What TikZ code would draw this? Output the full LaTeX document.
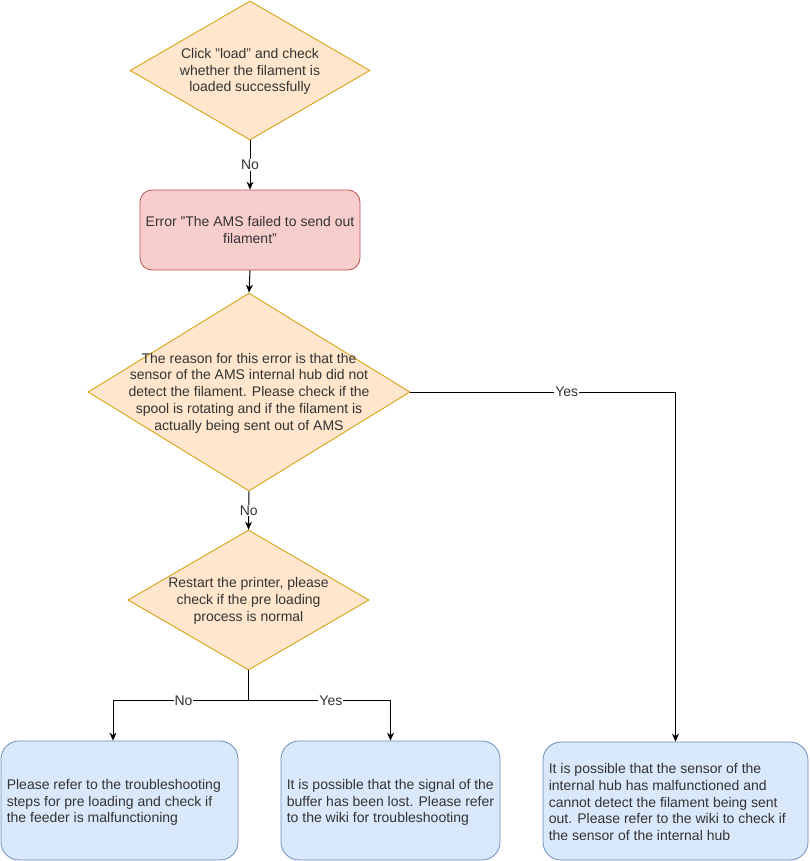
\documentclass[tikz,border=0pt]{standalone}
\usepackage{fontspec}
\setmainfont{Liberation Sans}
\usetikzlibrary{shapes.geometric,arrows.meta,calc}
\definecolor{decfill}{HTML}{FFE6CC}
\definecolor{decdraw}{HTML}{D79B00}
\definecolor{errfill}{HTML}{F8CECC}
\definecolor{errdraw}{HTML}{B85450}
\definecolor{endfill}{HTML}{DAE8FC}
\definecolor{enddraw}{HTML}{6C8EBF}
\definecolor{txt}{HTML}{333333}
\tikzset{
  decision/.style={diamond,draw=decdraw,fill=decfill,line width=0.8pt,inner sep=0pt,aspect=1},
  dectext/.style={text=txt,align=center,inner sep=0pt,font=\fontsize{14}{16.8}\selectfont},
  errbox/.style={draw=errdraw,fill=errfill,line width=0.8pt,rounded corners=12pt,text=txt,align=center,font=\fontsize{14}{16.8}\selectfont},
  endbox/.style={draw=enddraw,fill=endfill,line width=0.8pt,rounded corners=18pt,inner sep=0pt},
  endtext/.style={text=txt,align=left,inner sep=0pt,anchor=west,font=\fontsize{14}{16.8}\selectfont},
  conn/.style={draw=black,line width=1pt,-{Stealth[length=8pt,width=7pt]}},
  lbl/.style={fill=white,inner sep=1pt,text=txt,font=\fontsize{14}{16}\selectfont}
}
\begin{document}
\begin{tikzpicture}[x=1pt,y=-1pt]
\useasboundingbox (0,0) rectangle (809,861);
% decisions
\node[decision,minimum width=240pt,minimum height=139pt] (d1) at (250,70.5) {};
\node[dectext] (t1) at ($(d1.center)+(0,1)$) {Click "load" and check\\whether the filament is\\loaded successfully};
\node[errbox,minimum width=220pt,minimum height=80pt] (e1) at (250,230) {Error "The AMS failed to send out\\filament"};
\node[decision,minimum width=322pt,minimum height=198pt] (d2) at (249,392) {};
\node[dectext] (t2) at ($(d2.center)+(0,1)$) {The reason for this error is that the\\sensor of the AMS internal hub did not\\detect the filament. Please check if the\\spool is rotating and if the filament is\\actually being sent out of AMS};
\node[decision,minimum width=241pt,minimum height=140pt] (d3) at (248.5,600) {};
\node[dectext] (t3) at ($(d3.center)+(0,1)$) {Restart the printer, please\\check if the pre loading\\process is normal};
% end boxes
\node[endbox,minimum width=237pt,minimum height=119pt] (lb) at (119.5,800.5) {};
\node[endtext] (lt) at ($(lb.west)+(6,2)$) {Please refer to the troubleshooting\\steps for pre loading and check if\\the feeder is malfunctioning};
\node[endbox,minimum width=219pt,minimum height=119pt] (mb) at (390.5,800.5) {};
\node[endtext] (mt) at ($(mb.west)+(6,2)$) {It is possible that the signal of the\\buffer has been lost. Please refer\\to the wiki for troubleshooting};
\node[endbox,minimum width=265pt,minimum height=118pt] (rb) at (675.5,801) {};
\node[endtext] (rt) at ($(rb.west)+(6,1)$) {It is possible that the sensor of the\\internal hub has malfunctioned and\\cannot detect the filament being sent\\out. Please refer to the wiki to check if\\the sensor of the internal hub};
% connectors
\draw[conn] (d1.south) -- node[lbl] {No} (e1.north);
\draw[conn] (e1.south) -- (d2.north);
\draw[conn] (d2.south) -- node[lbl] {No} (d3.north);
\draw[conn] (d2.east) -- node[lbl,pos=0.59] {Yes} (d2.east -| rb.north) -- (rb.north);
\coordinate (split) at ($(d3.south)+(0,30)$);
\coordinate (lbtop) at ($(lb.north)+(-6.5,0)$);
\draw[conn] (d3.south) -- (split) -- node[lbl,pos=0.48] {No} (split -| lbtop) -- (lbtop);
\draw[conn] (split) -- node[lbl,pos=0.58] {Yes} (split -| mb.north) -- (mb.north);
\end{tikzpicture}
\end{document}
